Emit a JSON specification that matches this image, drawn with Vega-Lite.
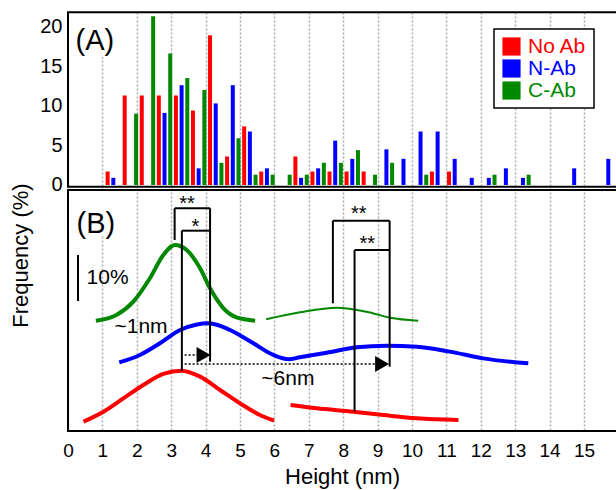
{
  "$schema": "https://vega.github.io/schema/vega-lite/v6.json",
  "width": 548,
  "height": 419,
  "autosize": {"type": "none"},
  "padding": {"left": 68, "top": 12, "right": 0, "bottom": 59},
  "background": "white",
  "config": {"view": {"stroke": null}, "font": "Liberation Sans", "axis": {"labelColor": "black", "titleColor": "black"}},
  "datasets": {
    "bars": [
      {"bin": 1.0, "series": "No Ab", "pct": 1.7},
      {"bin": 1.5, "series": "No Ab", "pct": 11.3},
      {"bin": 2.0, "series": "No Ab", "pct": 11.3},
      {"bin": 2.5, "series": "No Ab", "pct": 11.3},
      {"bin": 3.0, "series": "No Ab", "pct": 11.3},
      {"bin": 3.5, "series": "No Ab", "pct": 9.4},
      {"bin": 4.0, "series": "No Ab", "pct": 18.9},
      {"bin": 4.5, "series": "No Ab", "pct": 3.6},
      {"bin": 5.0, "series": "No Ab", "pct": 7.4},
      {"bin": 5.5, "series": "No Ab", "pct": 1.7},
      {"bin": 6.5, "series": "No Ab", "pct": 3.6},
      {"bin": 7.0, "series": "No Ab", "pct": 1.7},
      {"bin": 7.5, "series": "No Ab", "pct": 1.7},
      {"bin": 8.0, "series": "No Ab", "pct": 1.7},
      {"bin": 8.5, "series": "No Ab", "pct": 1.7},
      {"bin": 10.5, "series": "No Ab", "pct": 1.7},
      {"bin": 11.0, "series": "No Ab", "pct": 1.7},
      {"bin": 1.0, "series": "N-Ab", "pct": 0.9},
      {"bin": 2.5, "series": "N-Ab", "pct": 9.1},
      {"bin": 3.0, "series": "N-Ab", "pct": 12.6},
      {"bin": 3.5, "series": "N-Ab", "pct": 2.1},
      {"bin": 4.0, "series": "N-Ab", "pct": 10.3},
      {"bin": 4.5, "series": "N-Ab", "pct": 12.6},
      {"bin": 5.0, "series": "N-Ab", "pct": 6.75},
      {"bin": 5.5, "series": "N-Ab", "pct": 2.1},
      {"bin": 6.5, "series": "N-Ab", "pct": 0.9},
      {"bin": 7.0, "series": "N-Ab", "pct": 2.1},
      {"bin": 7.5, "series": "N-Ab", "pct": 5.6},
      {"bin": 8.0, "series": "N-Ab", "pct": 3.3},
      {"bin": 9.0, "series": "N-Ab", "pct": 4.5},
      {"bin": 9.5, "series": "N-Ab", "pct": 3.3},
      {"bin": 10.0, "series": "N-Ab", "pct": 6.75},
      {"bin": 10.5, "series": "N-Ab", "pct": 6.75},
      {"bin": 11.0, "series": "N-Ab", "pct": 3.3},
      {"bin": 11.5, "series": "N-Ab", "pct": 0.9},
      {"bin": 12.0, "series": "N-Ab", "pct": 0.9},
      {"bin": 12.5, "series": "N-Ab", "pct": 2.1},
      {"bin": 13.0, "series": "N-Ab", "pct": 0.9},
      {"bin": 14.5, "series": "N-Ab", "pct": 2.1},
      {"bin": 15.5, "series": "N-Ab", "pct": 3.3},
      {"bin": 1.5, "series": "C-Ab", "pct": 9.0},
      {"bin": 2.0, "series": "C-Ab", "pct": 21.3},
      {"bin": 2.5, "series": "C-Ab", "pct": 16.6},
      {"bin": 3.0, "series": "C-Ab", "pct": 13.5},
      {"bin": 3.5, "series": "C-Ab", "pct": 12.0},
      {"bin": 4.0, "series": "C-Ab", "pct": 2.8},
      {"bin": 4.5, "series": "C-Ab", "pct": 5.9},
      {"bin": 5.0, "series": "C-Ab", "pct": 1.3},
      {"bin": 5.5, "series": "C-Ab", "pct": 1.3},
      {"bin": 6.0, "series": "C-Ab", "pct": 1.3},
      {"bin": 6.5, "series": "C-Ab", "pct": 1.3},
      {"bin": 7.0, "series": "C-Ab", "pct": 2.8},
      {"bin": 7.5, "series": "C-Ab", "pct": 2.8},
      {"bin": 8.0, "series": "C-Ab", "pct": 4.4},
      {"bin": 8.5, "series": "C-Ab", "pct": 1.3},
      {"bin": 9.0, "series": "C-Ab", "pct": 2.8},
      {"bin": 10.0, "series": "C-Ab", "pct": 1.3},
      {"bin": 12.0, "series": "C-Ab", "pct": 1.3},
      {"bin": 13.0, "series": "C-Ab", "pct": 1.3}
    ],
    "curves": [
      {"seg": "C1", "series": "C-Ab", "x": 0.81, "y": -17.13},
      {"seg": "C1", "series": "C-Ab", "x": 1.41, "y": -16.41},
      {"seg": "C1", "series": "C-Ab", "x": 1.9, "y": -14.73},
      {"seg": "C1", "series": "C-Ab", "x": 2.38, "y": -11.78},
      {"seg": "C1", "series": "C-Ab", "x": 2.77, "y": -8.84},
      {"seg": "C1", "series": "C-Ab", "x": 3.11, "y": -7.58},
      {"seg": "C1", "series": "C-Ab", "x": 3.45, "y": -8.21},
      {"seg": "C1", "series": "C-Ab", "x": 3.84, "y": -10.52},
      {"seg": "C1", "series": "C-Ab", "x": 4.13, "y": -13.05},
      {"seg": "C1", "series": "C-Ab", "x": 4.52, "y": -15.57},
      {"seg": "C1", "series": "C-Ab", "x": 4.9, "y": -16.71},
      {"seg": "C1", "series": "C-Ab", "x": 5.44, "y": -17.13},
      {"seg": "C2", "series": "C-Ab", "x": 5.76, "y": -16.96},
      {"seg": "C2", "series": "C-Ab", "x": 6.74, "y": -16.08},
      {"seg": "C2", "series": "C-Ab", "x": 7.81, "y": -15.49},
      {"seg": "C2", "series": "C-Ab", "x": 8.68, "y": -16.0},
      {"seg": "C2", "series": "C-Ab", "x": 9.36, "y": -16.75},
      {"seg": "C2", "series": "C-Ab", "x": 10.18, "y": -17.13},
      {"seg": "N1", "series": "N-Ab", "x": 1.49, "y": -22.39},
      {"seg": "N1", "series": "N-Ab", "x": 2.09, "y": -21.46},
      {"seg": "N1", "series": "N-Ab", "x": 2.67, "y": -19.99},
      {"seg": "N1", "series": "N-Ab", "x": 3.26, "y": -18.31},
      {"seg": "N1", "series": "N-Ab", "x": 3.75, "y": -17.62},
      {"seg": "N1", "series": "N-Ab", "x": 4.05, "y": -17.45},
      {"seg": "N1", "series": "N-Ab", "x": 4.3, "y": -17.62},
      {"seg": "N1", "series": "N-Ab", "x": 4.71, "y": -18.31},
      {"seg": "N1", "series": "N-Ab", "x": 5.39, "y": -19.99},
      {"seg": "N1", "series": "N-Ab", "x": 5.97, "y": -21.46},
      {"seg": "N1", "series": "N-Ab", "x": 6.41, "y": -22.01},
      {"seg": "N1", "series": "N-Ab", "x": 6.74, "y": -21.76},
      {"seg": "N1", "series": "N-Ab", "x": 7.52, "y": -21.17},
      {"seg": "N1", "series": "N-Ab", "x": 8.39, "y": -20.5},
      {"seg": "N1", "series": "N-Ab", "x": 9.26, "y": -20.29},
      {"seg": "N1", "series": "N-Ab", "x": 10.14, "y": -20.41},
      {"seg": "N1", "series": "N-Ab", "x": 11.1, "y": -21.04},
      {"seg": "N1", "series": "N-Ab", "x": 12.07, "y": -21.89},
      {"seg": "N1", "series": "N-Ab", "x": 13.38, "y": -22.52},
      {"seg": "R1", "series": "No Ab", "x": 0.45, "y": -29.88},
      {"seg": "R1", "series": "No Ab", "x": 1.03, "y": -28.62},
      {"seg": "R1", "series": "No Ab", "x": 1.61, "y": -26.94},
      {"seg": "R1", "series": "No Ab", "x": 2.19, "y": -25.25},
      {"seg": "R1", "series": "No Ab", "x": 2.77, "y": -23.86},
      {"seg": "R1", "series": "No Ab", "x": 3.3, "y": -23.44},
      {"seg": "R1", "series": "No Ab", "x": 3.84, "y": -24.2},
      {"seg": "R1", "series": "No Ab", "x": 4.42, "y": -25.88},
      {"seg": "R1", "series": "No Ab", "x": 5.0, "y": -27.57},
      {"seg": "R1", "series": "No Ab", "x": 5.58, "y": -29.04},
      {"seg": "R1", "series": "No Ab", "x": 5.99, "y": -29.76},
      {"seg": "R2", "series": "No Ab", "x": 6.47, "y": -27.78},
      {"seg": "R2", "series": "No Ab", "x": 7.23, "y": -28.2},
      {"seg": "R2", "series": "No Ab", "x": 8.29, "y": -28.62},
      {"seg": "R2", "series": "No Ab", "x": 9.17, "y": -29.04},
      {"seg": "R2", "series": "No Ab", "x": 10.14, "y": -29.46},
      {"seg": "R2", "series": "No Ab", "x": 11.35, "y": -29.67}
    ],
    "frames": [
      {"x": 0, "x2": 17, "y": 21.8, "y2": -0.21},
      {"x": 0, "x2": 17, "y": -0.63, "y2": -31.06}
    ],
    "labelbg": [
      {"x": 0.03, "x2": 1.55, "y": 21.7, "y2": 16.2},
      {"x": 0.03, "x2": 1.55, "y": -0.75, "y2": -6.3}
    ],
    "ticks": [
      {"x": 1}, {"x": 2}, {"x": 3}, {"x": 4}, {"x": 5}, {"x": 6}, {"x": 7}, {"x": 8},
      {"x": 9}, {"x": 10}, {"x": 11}, {"x": 12}, {"x": 13}, {"x": 14}, {"x": 15}
    ],
    "lines": [
      {"x": 3.1, "y": -2.94, "x2": 3.1, "y2": -6.94},
      {"x": 3.1, "y": -2.94, "x2": 4.13, "y2": -2.94},
      {"x": 4.13, "y": -2.94, "x2": 4.13, "y2": -22.31},
      {"x": 3.31, "y": -5.77, "x2": 3.31, "y2": -23.45},
      {"x": 3.31, "y": -5.77, "x2": 4.13, "y2": -5.77},
      {"x": 7.7, "y": -4.51, "x2": 7.7, "y2": -14.94},
      {"x": 7.7, "y": -4.51, "x2": 9.35, "y2": -4.51},
      {"x": 9.35, "y": -4.51, "x2": 9.35, "y2": -22.94},
      {"x": 8.33, "y": -8.21, "x2": 8.33, "y2": -28.62},
      {"x": 8.33, "y": -8.21, "x2": 9.35, "y2": -8.21},
      {"x": 0.29, "y": -8.84, "x2": 0.29, "y2": -14.65}
    ],
    "dotted": [
      {"x": 3.39, "y": -21.46, "x2": 3.95, "y2": -21.46},
      {"x": 3.39, "y": -22.6, "x2": 9.15, "y2": -22.6}
    ],
    "heads": [
      {"x": 3.94, "y": -21.46},
      {"x": 9.13, "y": -22.6}
    ],
    "panels": [
      {"x": 0.22, "y": 17.05, "t": "(A)"},
      {"x": 0.25, "y": -6.1, "t": "(B)"}
    ],
    "stars": [
      {"x": 3.46, "y": -3.22, "t": "**"},
      {"x": 3.7, "y": -6.06, "t": "*"},
      {"x": 8.45, "y": -4.48, "t": "**"},
      {"x": 8.7, "y": -8.27, "t": "**"}
    ],
    "notes": [
      {"x": 0.54, "y": -12.5, "t": "10%"},
      {"x": 1.35, "y": -18.69, "t": "~1nm"},
      {"x": 5.62, "y": -25.25, "t": "~6nm"}
    ]
  },
  "resolve": {"scale": {"x": "independent"}},
  "layer": [
    {
      "data": {"name": "bars"},
      "transform": [{"filter": "datum.series == 'No Ab'"}],
      "mark": {"type": "bar", "width": 4},
      "encoding": {
        "x": {"field": "bin", "type": "quantitative", "scale": {"domain": [-0.0144, 15.746], "nice": false, "zero": false}, "axis": null},
        "y": {"field": "pct", "type": "quantitative", "stack": null, "scale": {"domain": [-31.06, 21.84], "nice": false, "zero": false},
          "axis": {"values": [0, 5, 10, 15, 20], "labelFontSize": 20, "labelPadding": 6, "ticks": false, "domain": false, "grid": false, "title": "Frequency (%)", "titleFontSize": 22, "titleFontWeight": "normal", "titleX": -48, "titleY": 243, "titleAngle": 270, "titleAlign": "center", "titleBaseline": "middle"}},
        "color": {"field": "series", "type": "nominal",
          "scale": {"domain": ["No Ab", "N-Ab", "C-Ab"], "range": ["#ff0000", "#0000ff", "#008800"]},
          "legend": {"orient": "none", "legendX": 426, "legendY": 17, "title": null, "symbolType": "square", "symbolSize": 330, "symbolStrokeWidth": 0, "symbolOpacity": 1, "labelFontSize": 21, "labelOffset": 6, "rowPadding": 0, "padding": 7, "strokeColor": "black", "fillColor": "white", "labelLimit": 300, "values": ["No Ab", "N-Ab", "C-Ab"],
            "encode": {"labels": {"update": {"fill": {"scale": "color", "field": "value"}}}, "legend": {"update": {"strokeWidth": {"value": 1.5}}}}}}
      }
    },
    {
      "data": {"name": "bars"},
      "transform": [{"filter": "datum.series == 'N-Ab'"}],
      "mark": {"type": "bar", "width": 4},
      "encoding": {
        "x": {"field": "bin", "type": "quantitative", "scale": {"domain": [-0.1812, 15.5792], "nice": false, "zero": false}, "axis": null},
        "y": {"field": "pct", "type": "quantitative", "stack": null, "scale": {"domain": [-31.06, 21.84], "nice": false, "zero": false},
          "axis": {"values": [0, 5, 10, 15, 20], "labelFontSize": 20, "labelPadding": 6, "ticks": false, "domain": false, "grid": false, "title": "Frequency (%)", "titleFontSize": 22, "titleFontWeight": "normal", "titleX": -48, "titleY": 243, "titleAngle": 270, "titleAlign": "center", "titleBaseline": "middle"}},
        "color": {"field": "series", "type": "nominal",
          "scale": {"domain": ["No Ab", "N-Ab", "C-Ab"], "range": ["#ff0000", "#0000ff", "#008800"]},
          "legend": {"orient": "none", "legendX": 426, "legendY": 17, "title": null, "symbolType": "square", "symbolSize": 330, "symbolStrokeWidth": 0, "symbolOpacity": 1, "labelFontSize": 21, "labelOffset": 6, "rowPadding": 0, "padding": 7, "strokeColor": "black", "fillColor": "white", "labelLimit": 300, "values": ["No Ab", "N-Ab", "C-Ab"],
            "encode": {"labels": {"update": {"fill": {"scale": "color", "field": "value"}}}, "legend": {"update": {"strokeWidth": {"value": 1.5}}}}}}
      }
    },
    {
      "data": {"name": "bars"},
      "transform": [{"filter": "datum.series == 'C-Ab'"}],
      "mark": {"type": "bar", "width": 4},
      "encoding": {
        "x": {"field": "bin", "type": "quantitative", "scale": {"domain": [-0.348, 15.4124], "nice": false, "zero": false}, "axis": null},
        "y": {"field": "pct", "type": "quantitative", "stack": null, "scale": {"domain": [-31.06, 21.84], "nice": false, "zero": false},
          "axis": {"values": [0, 5, 10, 15, 20], "labelFontSize": 20, "labelPadding": 6, "ticks": false, "domain": false, "grid": false, "title": "Frequency (%)", "titleFontSize": 22, "titleFontWeight": "normal", "titleX": -48, "titleY": 243, "titleAngle": 270, "titleAlign": "center", "titleBaseline": "middle"}},
        "color": {"field": "series", "type": "nominal",
          "scale": {"domain": ["No Ab", "N-Ab", "C-Ab"], "range": ["#ff0000", "#0000ff", "#008800"]},
          "legend": {"orient": "none", "legendX": 426, "legendY": 17, "title": null, "symbolType": "square", "symbolSize": 330, "symbolStrokeWidth": 0, "symbolOpacity": 1, "labelFontSize": 21, "labelOffset": 6, "rowPadding": 0, "padding": 7, "strokeColor": "black", "fillColor": "white", "labelLimit": 300, "values": ["No Ab", "N-Ab", "C-Ab"],
            "encode": {"labels": {"update": {"fill": {"scale": "color", "field": "value"}}}, "legend": {"update": {"strokeWidth": {"value": 1.5}}}}}}
      }
    },
    {
      "encoding": {
        "x": {"field": "x", "type": "quantitative", "scale": {"domain": [0, 15.93], "nice": false, "zero": false},
          "axis": {"values": [0, 1, 2, 3, 4, 5, 6, 7, 8, 9, 10, 11, 12, 13, 14, 15], "labelFontSize": 19, "labelPadding": 10, "ticks": false, "domain": false, "grid": true, "gridDash": [2, 2], "gridColor": "#aaaaaa", "gridWidth": 1.5, "title": "Height (nm)", "titleFontSize": 22, "titleFontWeight": "normal", "titlePadding": 6, "labelFlush": false}},
        "y": {"field": "y", "type": "quantitative", "scale": {"domain": [-31.06, 21.84], "nice": false, "zero": false},
          "axis": {"values": [0, 5, 10, 15, 20], "labelFontSize": 20, "labelPadding": 6, "ticks": false, "domain": false, "grid": false, "title": "Frequency (%)", "titleFontSize": 22, "titleFontWeight": "normal", "titleX": -48, "titleY": 243, "titleAngle": 270, "titleAlign": "center", "titleBaseline": "middle"}}
      },
      "layer": [
        {
          "data": {"name": "labelbg"},
          "mark": {"type": "rect", "fill": "white"},
          "encoding": {"x2": {"field": "x2"}, "y2": {"field": "y2"}}
        },
        {
          "data": {"name": "frames"},
          "mark": {"type": "rect", "fill": "transparent", "stroke": "black", "strokeWidth": 2},
          "encoding": {"x2": {"field": "x2"}, "y2": {"field": "y2"}}
        },
        {
          "data": {"name": "ticks"},
          "mark": {"type": "point", "shape": "square", "filled": true, "color": "black", "size": 9, "opacity": 1},
          "encoding": {"y": {"datum": -0.21}}
        },
        {
          "data": {"name": "curves"},
          "transform": [{"filter": "datum.seg != 'C2'"}],
          "mark": {"type": "line", "strokeWidth": 4, "interpolate": "monotone"},
          "encoding": {
            "detail": {"field": "seg"},
            "stroke": {"field": "series", "type": "nominal", "scale": {"domain": ["No Ab", "N-Ab", "C-Ab"], "range": ["#ff0000", "#0000ff", "#008800"]}, "legend": null}
          }
        },
        {
          "data": {"name": "curves"},
          "transform": [{"filter": "datum.seg == 'C2'"}],
          "mark": {"type": "line", "strokeWidth": 2, "interpolate": "monotone", "color": "#008800"},
          "encoding": {}
        },
        {
          "data": {"name": "lines"},
          "mark": {"type": "rule", "strokeWidth": 2, "color": "black"},
          "encoding": {"x2": {"field": "x2"}, "y2": {"field": "y2"}}
        },
        {
          "data": {"name": "dotted"},
          "mark": {"type": "rule", "strokeWidth": 1.5, "color": "black", "strokeDash": [2, 2]},
          "encoding": {"x2": {"field": "x2"}, "y2": {"field": "y2"}}
        },
        {
          "data": {"name": "heads"},
          "mark": {"type": "point", "shape": "triangle-right", "filled": true, "color": "black", "size": 260, "opacity": 1},
          "encoding": {}
        },
        {
          "data": {"name": "panels"},
          "mark": {"type": "text", "fontSize": 29, "align": "left", "baseline": "alphabetic", "color": "black"},
          "encoding": {"text": {"field": "t"}}
        },
        {
          "data": {"name": "stars"},
          "mark": {"type": "text", "fontSize": 20, "align": "center", "baseline": "alphabetic", "color": "black"},
          "encoding": {"text": {"field": "t"}}
        },
        {
          "data": {"name": "notes"},
          "mark": {"type": "text", "fontSize": 21, "align": "left", "baseline": "alphabetic", "color": "black"},
          "encoding": {"text": {"field": "t"}}
        }
      ]
    }
  ]
}
